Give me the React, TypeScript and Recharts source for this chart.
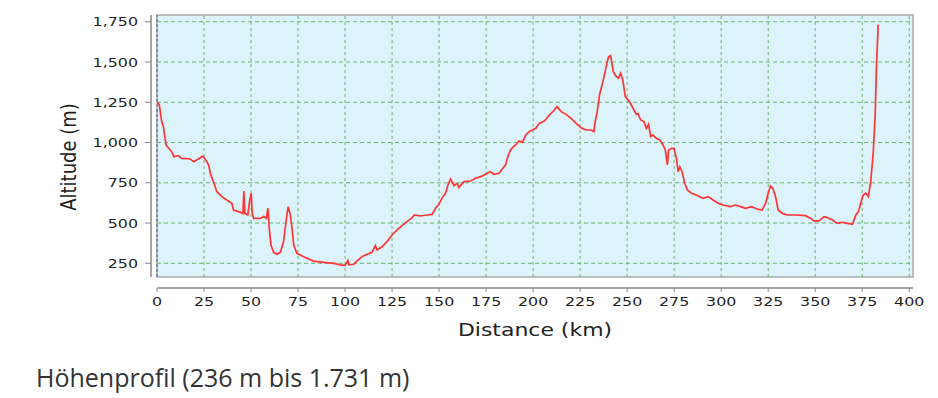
import { LineChart, Line, XAxis, YAxis, ReferenceArea, ReferenceLine } from "recharts";

// distance along the route (km) and altitude (m)
const distKm = [
  0, 1.2, 2.5, 3.4, 4.8, 6, 7.8, 9, 11.4, 13.1, 17.6, 19.4, 22, 24.3, 25.6, 27.4, 28.6, 30, 31.8, 34.5,
  37.1, 39.8, 40.7, 43.4, 45.7, 46.2, 46.7, 48.3, 49.2, 50.1, 50.6, 51.4, 55, 56.7, 58.1, 59, 59.7, 60.6,
  62, 63.8, 65.6, 67.3, 68.4, 69.7, 70.9, 71.8, 72.7, 74.4, 78, 83.3, 88.7, 94, 97.5, 100, 101.5, 102,
  104.6, 106.3, 109, 111.7, 114.3, 116.1, 117, 119.7, 122.3, 125, 127.7, 130.3, 133, 135.7, 136.9, 140.1,
  143.7, 146.3, 148.1, 149.9, 151.7, 153.4, 154.7, 156.1, 157.9, 159.6, 160.5, 163.2, 166.8, 169.4, 172.1,
  174.8, 177.1, 179.2, 181.9, 183.6, 185.4, 186.3, 187.7, 189, 190.7, 192.5, 194.3, 196.1, 197.9, 199.6,
  201.4, 203.3, 206, 208.7, 211.3, 212.7, 214.9, 217.5, 220.2, 222.9, 225.5, 228.2, 230.9, 232.3, 233,
  234.1, 235.3, 237.1, 238.3, 239.4, 240.1, 241.2, 241.9, 242.6, 244.2, 245.4, 246.5, 247.7, 249, 251.3,
  253.1, 254.9, 255.7, 257.2, 258.9, 260.2, 261.4, 262.5, 263.7, 265.5, 267.3, 269.1, 270.3, 271.4, 272.1,
  273.5, 274.9, 276.2, 277.1, 278, 279.2, 280.6, 282, 284.2, 286.8, 288.6, 290.4, 293.1, 295.7, 298.4, 301,
  304.9, 307.6, 310.3, 312.9, 316.1, 319.1, 321.8, 323.6, 325, 326.2, 327.5, 328.9, 330.3, 332.5, 335.1,
  339.6, 344.9, 347.6, 349.3, 352, 354.7, 356.4, 359.1, 361.8, 364.4, 367.1, 369.8, 371.6, 373, 374.2,
  375.5, 376.9, 378.3, 379.5, 380.8, 381.9, 382.6, 383.5,
];
const altM = [
  1250, 1237, 1130, 1099, 985, 968, 943, 912, 919, 902, 898, 881, 898, 915, 898, 861, 799, 757, 695, 664,
  643, 623, 581, 571, 560, 699, 560, 550, 633, 685, 560, 529, 529, 540, 529, 592, 467, 364,
  318, 306, 318, 385, 488, 602, 550, 467, 364, 312, 291, 264, 256, 250, 240, 238, 268, 240,
  244, 264, 291, 306, 318, 360, 333, 353, 385, 426, 457, 484, 509, 534, 550, 544,
  550, 554, 592, 616, 658, 685, 736, 774, 732, 747, 720, 757, 761, 778, 788,
  803, 819, 803, 809, 836, 861, 902, 948, 968, 985, 1010, 1001, 1047, 1068, 1078,
  1088, 1119, 1134, 1171, 1202, 1223, 1192, 1175, 1150, 1119, 1092, 1078, 1078, 1068, 1130,
  1192, 1295, 1378, 1440, 1502, 1533, 1540, 1492, 1440, 1409, 1399, 1430, 1388, 1285, 1254,
  1213, 1175, 1181, 1140, 1130, 1088, 1113, 1037, 1047, 1026, 1016, 985, 954, 861, 954,
  964, 964, 902, 819, 850, 819, 747, 705, 685, 674, 664, 654, 664, 643, 623, 612,
  602, 612, 602, 592, 602, 587, 581, 623, 685, 730, 716, 664, 581, 560, 550,
  550, 546, 529, 513, 513, 540, 534, 519, 498, 505, 498, 492, 550, 571, 623,
  674, 685, 664, 757, 923, 1171, 1482, 1731,
];

const xTicks = [0, 25, 50, 75, 100, 125, 150, 175, 200, 225, 250, 275, 300, 325, 350, 375, 400];
const yTicks = [250, 500, 750, 1000, 1250, 1500, 1750];
const xDomain = [0, 402];
const yDomain = [165, 1792];

const data = distKm.map((d, i) => ({ d, alt: altM[i] }));

const STRETCH = 1.22;
const FONT = "'DejaVu Sans', sans-serif";

const YTick = (props: any) => {
  const { x, y, payload } = props;
  return (
    <text
      transform={`translate(${x} ${y}) scale(${STRETCH} 1)`}
      textAnchor="end"
      dominantBaseline="central"
      fontFamily={FONT}
      fontSize={13}
      fill="#222"
    >
      {Number(payload.value).toLocaleString("en-US")}
    </text>
  );
};

const XTick = (props: any) => {
  const { x, y, payload } = props;
  return (
    <text
      transform={`translate(${x} ${y}) scale(${STRETCH} 1)`}
      textAnchor="middle"
      dy="0.71em"
      fontFamily={FONT}
      fontSize={13}
      fill="#222"
    >
      {payload.value}
    </text>
  );
};

const XTitle = () => (
  <text
    transform={`translate(527 322) scale(${STRETCH} 1)`}
    textAnchor="middle"
    dominantBaseline="central"
    fontFamily={FONT}
    fontSize={18}
    fill="#222"
  >
    Distance (km)
  </text>
);

const YTitle = () => (
  <text
    transform={`translate(60 149) scale(${STRETCH} 1) rotate(-90)`}
    textAnchor="middle"
    dominantBaseline="central"
    fontFamily={FONT}
    fontSize={18}
    fill="#222"
  >
    Altitude (m)
  </text>
);

export default function App() {
  return (
    <div>
      <LineChart
        width={922}
        height={345}
        data={data}
        margin={{ top: 7, right: 17, left: 0, bottom: 15 }}
      >
        <XAxis
          dataKey="d"
          type="number"
          domain={xDomain}
          ticks={xTicks}
          allowDataOverflow
          padding={{ left: 6, right: 0 }}
          height={50}
          tickSize={4}
          tickMargin={5}
          tick={<XTick />}
          tickLine={{ stroke: "#888" }}
          axisLine={{ stroke: "#888", strokeWidth: 1.5, strokeDasharray: "0 6 756 10" }}
          label={<XTitle />}
        />
        <YAxis
          type="number"
          domain={yDomain}
          ticks={yTicks}
          allowDataOverflow
          padding={{ top: 0, bottom: 11 }}
          width={143}
          tickSize={6}
          tickMargin={7}
          tick={<YTick />}
          tickLine={{ stroke: "#888" }}
          axisLine={{ stroke: "#888", strokeWidth: 1.5, strokeDasharray: "262 20" }}
          label={<YTitle />}
        />
        <ReferenceArea
          x1={xDomain[0]}
          x2={xDomain[1]}
          y1={yDomain[0]}
          y2={yDomain[1]}
          fill="#ddf3fc"
          fillOpacity={1}
          stroke="#aaaaaa"
          strokeWidth={1.5}
        />
        {yTicks.map((v) => (
          <ReferenceLine
            key={"h" + v}
            segment={[
              { x: xDomain[0], y: v },
              { x: xDomain[1], y: v },
            ]}
            stroke="#6cb46c"
            strokeDasharray="4 3"
          />
        ))}
        {xTicks.slice(1).map((v) => (
          <ReferenceLine
            key={"v" + v}
            segment={[
              { x: v, y: yDomain[0] },
              { x: v, y: yDomain[1] },
            ]}
            stroke="#6cb46c"
            strokeDasharray="3 3"
          />
        ))}
        <ReferenceLine
          segment={[
            { x: 0, y: yDomain[0] },
            { x: 0, y: yDomain[1] },
          ]}
          stroke="#4a5aa8"
          strokeDasharray="3 2"
        />
        <Line
          dataKey="alt"
          type="linear"
          stroke="#ff3535"
          strokeWidth={1.7}
          dot={false}
          isAnimationActive={false}
        />
      </LineChart>
      <div
        style={{
          fontFamily: "'Open Sans', sans-serif",
          fontSize: 25,
          color: "#333",
          marginTop: 7,
          paddingLeft: 28,
          lineHeight: "34px",
        }}
      >
        Höhenprofil (236 m bis 1.731 m)
      </div>
    </div>
  );
}
